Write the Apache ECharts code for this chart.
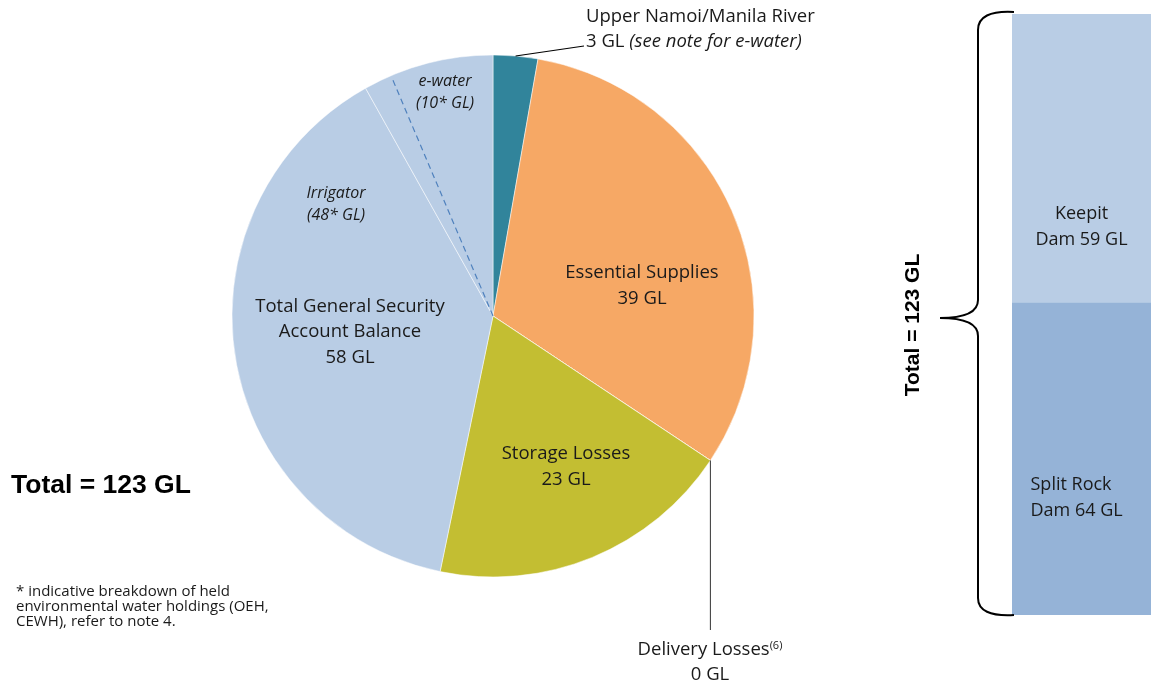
<!DOCTYPE html>
<html><head><meta charset="utf-8">
<script src="https://cdn.jsdelivr.net/npm/echarts@6/dist/echarts.min.js"></script>
<style>html,body{margin:0;padding:0;background:#fff}#c{width:1165px;height:686px}</style>
</head><body><div id="c"></div>
<script>
const pieNames = ['Upper Namoi/Manila River','Essential Supplies','Delivery Losses','Storage Losses','Irrigator','e-water'];
const pieValues = [3.4, 38.9, 0, 23.3, 47.6, 10];
const pieColors = ['#31849B','#F6A865','#F6A865','#C3BE32','#B9CDE5','#B9CDE5'];
const damNames = ['Split Rock Dam','Keepit Dam'];
const damValues = [64, 59];
const damColors = ['#95B3D7','#B9CDE5'];
const total = 123;

const FONT = '"Open Sans"';
const FS = '18.5px ';
const cx = 493, cy = 316, R = 261;
const sum = pieValues.reduce((a,b)=>a+b,0);
const rd = v => Math.round(v);
function cum(i){let s=0;for(let k=0;k<i;k++)s+=pieValues[k];return s;}
function pt(frac, r){const a = frac*2*Math.PI;return [cx + r*Math.sin(a), cy - r*Math.cos(a)];}

const upMid = pt((cum(0)+pieValues[0]/2)/sum, R);
const delPt = pt(cum(2)/sum, R);
const dashEnd = pt(337/360, R-3);

const chart = echarts.init(document.getElementById('c'), null, {renderer:'canvas'});
const txt = (x,y,text,opt) => Object.assign({type:'text', x, y, z:100, style:Object.assign({text, fill:'#1a1a1a', font:FS+FONT, align:'center', verticalAlign:'middle', lineHeight:26}, opt||{})});
const braceStyle = {stroke:'#000', lineWidth:2, fill:null};
const bez = (x1,y1,cpx1,cpy1,x2,y2) => ({type:'bezierCurve', z:100, shape:{x1,y1,cpx1,cpy1,x2,y2}, style:braceStyle});

chart.setOption({
  animation:false,
  grid:{left:1012, top:14, width:139, height:601},
  xAxis:{type:'category', data:['Storage'], show:false},
  yAxis:{type:'value', min:0, max:total, show:false},
  series:[
    {type:'pie', center:[cx,cy], radius:R, startAngle:90, clockwise:true, minAngle:0,
     label:{show:false}, labelLine:{show:false}, silent:true,
     itemStyle:{borderColor:'#ffffff', borderWidth:0.5},
     data: pieNames.map((n,i)=>({name:n, value:pieValues[i], itemStyle:{color:pieColors[i]}}))},
    ...damNames.map((n,i)=>({type:'bar', stack:'dam', name:n, barWidth:'100%',
      data:[damValues[i]], itemStyle:{color:damColors[i]},
      label:{show:true, position:'inside', formatter: i===0 ? 'Split Rock\nDam '+damValues[i]+' GL' : 'Keepit\nDam '+damValues[i]+' GL',
        color:'#1a1a1a', fontFamily:'Open Sans', fontSize:18, lineHeight:26, align: i===0?'left':'center', offset: i===0?[-51,39]:[0,69]}}))
  ],
  graphic:[
    {type:'line', z:100, shape:{x1:cx, y1:cy, x2:dashEnd[0], y2:dashEnd[1]}, style:{stroke:'#4F81BD', lineWidth:1.2, lineDash:[6,4]}},
    {type:'polyline', z:100, shape:{points:[[upMid[0],upMid[1]],[584,46]]}, style:{stroke:'#000', lineWidth:1.2, fill:null}},
    {type:'line', z:100, shape:{x1:delPt[0], y1:delPt[1], x2:delPt[0], y2:630}, style:{stroke:'#333', lineWidth:1}},
    txt(586, 17, 'Upper Namoi/Manila River', {align:'left'}),
    {type:'text', z:100, x:586, y:42, style:{rich:{a:{font:FS+FONT, fill:'#1a1a1a'}, b:{font:'italic '+FS+FONT, fill:'#1a1a1a'}}, text:'{a|'+rd(pieValues[0])+' GL }{b|(see note for e-water)}', verticalAlign:'middle', align:'left'}},
    txt(642, 286, 'Essential Supplies\n'+rd(pieValues[1])+' GL'),
    txt(566, 467, 'Storage Losses\n'+rd(pieValues[3])+' GL'),
    txt(350, 332, 'Total General Security\nAccount Balance\n'+rd(pieValues[4]+pieValues[5])+' GL', {lineHeight:25.5}),
    txt(336, 204, 'Irrigator\n('+rd(pieValues[4])+'* GL)', {font:'italic 16px '+FONT, lineHeight:22}),
    txt(445, 92.5, 'e-water\n('+rd(pieValues[5])+'* GL)', {font:'italic 16px '+FONT, lineHeight:22}),
    {type:'text', z:100, x:710, y:650, style:{rich:{a:{font:FS+FONT, fill:'#1a1a1a'}, s:{font:'11px '+FONT, fill:'#1a1a1a', verticalAlign:'top', padding:[0,0,9,0]}}, text:'{a|Delivery Losses}{s|(6)}', align:'center', verticalAlign:'middle'}},
    txt(710, 675, rd(pieValues[2])+' GL'),
    txt(11, 486, 'Total = '+total+' GL', {font:'bold 26.5px "Liberation Sans"', align:'left', fill:'#000'}),
    txt(16, 607, '* indicative breakdown of held\nenvironmental water holdings (OEH,\nCEWH), refer to note 4.', {font:'15px '+FONT, align:'left', lineHeight:15}),
    bez(1014,12, 978,10, 978,30),
    {type:'line', z:100, shape:{x1:978,y1:30,x2:978,y2:300}, style:braceStyle},
    bez(978,300, 978,318, 940,318),
    bez(940,318, 978,318, 978,336),
    {type:'line', z:100, shape:{x1:978,y1:336,x2:978,y2:598}, style:braceStyle},
    bez(978,598, 978,617, 1014,615),
    {type:'text', z:100, x:913, y:325, rotation:Math.PI/2, style:{text:'Total = '+total+' GL', font:'bold 21px "Liberation Sans"', fill:'#000', align:'center', verticalAlign:'middle'}}
  ]
});
</script></body></html>
